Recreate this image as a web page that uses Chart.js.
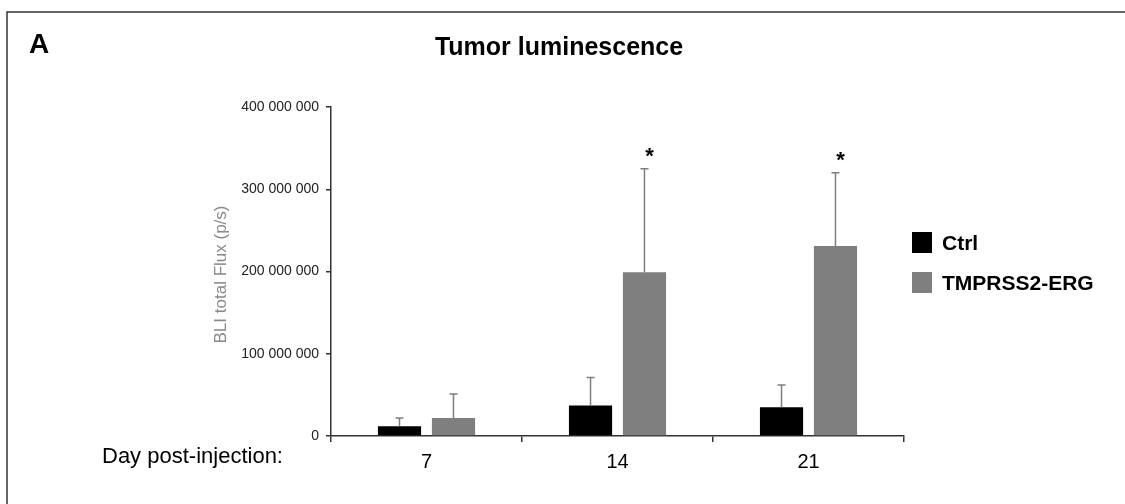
<!DOCTYPE html>
<html>
<head>
<meta charset="utf-8">
<script src="https://cdn.jsdelivr.net/npm/chart.js@4.4.1/dist/chart.umd.min.js"></script>
<style>
  html, body { margin: 0; padding: 0; background: #fff; }
  canvas { display: block; }
</style>
</head>
<body>
<canvas id="fluxChart" width="1125" height="504"></canvas>
<script>
// values (photons/s)
const days = ['7', '14', '21'];
const ctrlFlux = [12000000, 37000000, 35000000];
const ctrlErr = [10000000, 34000000, 27000000];
const ergFlux = [22000000, 199000000, 231000000];
const ergErr = [29000000, 126000000, 89000000];
const ergSignif = ['', '*', '*'];
const yTicks = [0, 100000000, 200000000, 300000000, 400000000];

const FONT = '"Liberation Sans", Arial, Helvetica, sans-serif';
const GREY = '#7f7f7f';

function spaced(v) {
    return String(v).replace(/\B(?=(\d{3})+(?!\d))/g, ' ');
}

// error bars (upper only), asterisks, legend and the loose labels
const decorations = {
    id: 'decorations',
    beforeDraw(chart) {
        const ctx = chart.ctx;
        ctx.save();
        ctx.fillStyle = '#fff';
        ctx.fillRect(0, 0, chart.width, chart.height);
        ctx.strokeStyle = '#333';
        ctx.lineWidth = 1.5;
        ctx.beginPath();
        ctx.moveTo(7, chart.height);
        ctx.lineTo(7, 12);
        ctx.lineTo(chart.width, 12);
        ctx.stroke();
        ctx.restore();
    },
    afterDatasetsDraw(chart) {
        const ctx = chart.ctx;
        const y = chart.scales.y;
        const errs = [ctrlErr, ergErr];
        ctx.save();
        ctx.strokeStyle = GREY;
        ctx.lineWidth = 1.5;
        chart.data.datasets.forEach((ds, di) => {
            const meta = chart.getDatasetMeta(di);
            meta.data.forEach((bar, i) => {
                const top = y.getPixelForValue(ds.data[i] + errs[di][i]);
                ctx.beginPath();
                ctx.moveTo(bar.x, bar.y);
                ctx.lineTo(bar.x, top);
                ctx.moveTo(bar.x - 4, top);
                ctx.lineTo(bar.x + 4, top);
                ctx.stroke();
            });
        });

        // significance marks above TMPRSS2-ERG bars
        ctx.fillStyle = '#000';
        ctx.font = 'bold 22px ' + FONT;
        ctx.textAlign = 'center';
        ctx.textBaseline = 'alphabetic';
        const ergMeta = chart.getDatasetMeta(1);
        ergSignif.forEach((s, i) => {
            if (!s) return;
            const top = y.getPixelForValue(ergFlux[i] + ergErr[i]);
            ctx.fillText(s, ergMeta.data[i].x + 5, top - 6);
        });
        ctx.restore();
    },
    afterDraw(chart) {
        const ctx = chart.ctx;
        const area = chart.chartArea;
        ctx.save();
        ctx.fillStyle = '#000';
        ctx.textBaseline = 'alphabetic';

        ctx.font = 'bold 28px ' + FONT;
        ctx.textAlign = 'left';
        ctx.fillText('A', 29, 53);

        ctx.font = 'bold 25px ' + FONT;
        ctx.textAlign = 'center';
        ctx.fillText('Tumor luminescence', 559, 55);

        ctx.font = '22px ' + FONT;
        ctx.textAlign = 'left';
        ctx.fillText('Day post-injection:', 102, 463);

        // y axis title
        ctx.save();
        ctx.translate(226, (area.top + area.bottom) / 2 + 3);
        ctx.rotate(-Math.PI / 2);
        ctx.fillStyle = '#888';
        ctx.font = '17px ' + FONT;
        ctx.textAlign = 'center';
        ctx.fillText('BLI total Flux (p/s)', 0, 0);
        ctx.restore();

        // legend
        ctx.font = 'bold 21px ' + FONT;
        ctx.textAlign = 'left';
        chart.data.datasets.forEach((ds, i) => {
            const yy = 232 + i * 40;
            ctx.fillStyle = ds.backgroundColor;
            ctx.fillRect(912, yy, 20, 21);
            ctx.fillStyle = '#000';
            ctx.fillText(ds.label, 942, yy + 18);
        });
        ctx.restore();
    }
};

new Chart(document.getElementById('fluxChart'), {
    type: 'bar',
    data: {
        labels: days,
        datasets: [{
            label: 'Ctrl',
            data: ctrlFlux,
            backgroundColor: '#000000',
            categoryPercentage: 0.565,
            barPercentage: 0.8
        }, {
            label: 'TMPRSS2-ERG',
            data: ergFlux,
            backgroundColor: GREY,
            categoryPercentage: 0.565,
            barPercentage: 0.8
        }]
    },
    options: {
        responsive: false,
        animation: false,
        layout: { padding: { top: 107, right: 221, left: 0, bottom: 0 } },
        plugins: {
            legend: { display: false },
            title: { display: false },
            tooltip: { enabled: false }
        },
        scales: {
            x: {
                afterFit(scale) { scale.height = 68; },
                grid: {
                    offset: true,
                    drawOnChartArea: false,
                    drawTicks: true,
                    tickLength: 6,
                    color: '#333',
                    lineWidth: 1.5
                },
                border: { color: '#333', width: 1.5 },
                ticks: {
                    color: '#000',
                    padding: 8,
                    font: { family: FONT, size: 20 }
                }
            },
            y: {
                min: 0,
                max: 400000000,
                afterFit(scale) { scale.width = 331; },
                afterBuildTicks(scale) {
                    scale.ticks = yTicks.map(v => ({ value: v }));
                },
                grid: {
                    drawOnChartArea: false,
                    drawTicks: true,
                    tickLength: 5,
                    color: '#333',
                    lineWidth: 1.5
                },
                border: { color: '#333', width: 1.5 },
                ticks: {
                    color: '#222',
                    padding: 7,
                    font: { family: FONT, size: 14 },
                    callback: v => spaced(v)
                }
            }
        }
    },
    plugins: [decorations]
});
</script>
</body>
</html>
